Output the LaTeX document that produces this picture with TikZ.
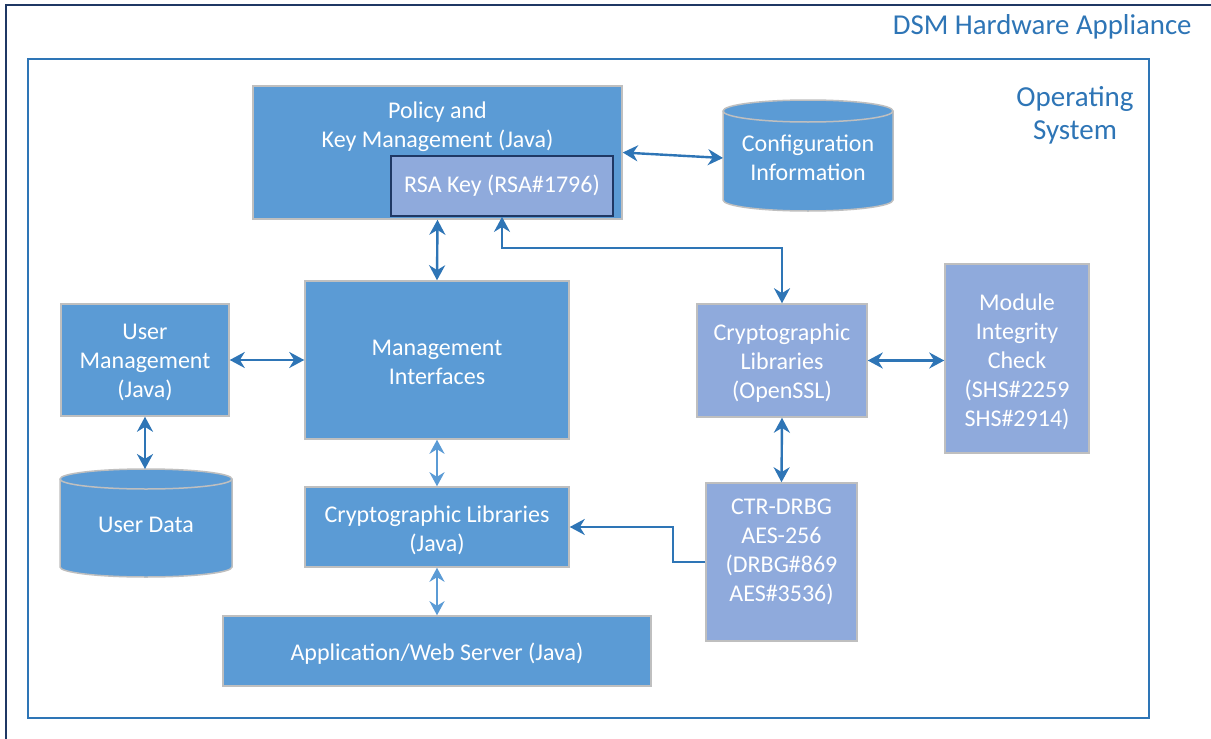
\documentclass[tikz,border=0pt]{standalone}
\usepackage{fontspec}
\setmainfont{Carlito}
\usetikzlibrary{arrows.meta,calc}
\definecolor{mblue}{HTML}{5B9BD5}
\definecolor{lblue}{HTML}{8FAADC}
\definecolor{arrc}{HTML}{2E75B6}
\definecolor{navy}{HTML}{1F3864}
\definecolor{gbord}{HTML}{BFBFBF}
\tikzset{
  blk/.style={fill=mblue, draw=gbord, line width=0.75pt, text=white, align=center,
    inner sep=0pt, font=\fontsize{12}{14.5}\selectfont},
  lblk/.style={blk, fill=lblue},
  txt/.style={text=white, align=center, inner sep=0pt, font=\fontsize{12}{14.5}\selectfont},
  arr/.style={draw=arrc, line width=1.2pt, {Stealth[length=7.5pt,width=8pt]}-{Stealth[length=7.5pt,width=8pt]}},
  sarr/.style={draw=arrc, line width=1.2pt, -{Stealth[length=7.5pt,width=8pt]}},
  larr/.style={draw=mblue, line width=1.2pt, {Stealth[length=7pt,width=7.5pt]}-{Stealth[length=7pt,width=7.5pt]}},
  cyl/.style={fill=mblue, draw=gbord, line width=0.75pt},
}
\begin{document}
\begin{tikzpicture}[x=0.5pt,y=-0.5pt]
\clip (0,0) rectangle (1211,739);
\fill[white] (0,0) rectangle (1211,739);
% frames
\draw[navy, line width=1pt] (6,760) -- (6,5) -- (1230,5);
\draw[arrc, line width=1pt] (28,59) rectangle (1149,718);
\node[anchor=east, text=arrc, inner sep=0pt, font=\fontsize{14.4}{16.5}\selectfont] (title) at (1192,27) {DSM Hardware Appliance};
\node[align=center, text=arrc, inner sep=0pt, font=\fontsize{14.5}{16.5}\selectfont] (os) at (1075,115) {Operating\\System};

% policy box
\node[blk, minimum width=184.5pt, minimum height=66.5pt] (policy) at (437.5,152.5) {};
\node[txt] (policyt) at (437.5,127) {Policy and\\Key Management (Java)};
\node[lblk, draw=navy, line width=0.9pt, minimum width=111pt, minimum height=30pt] (rsa) at (502,186) {RSA Key (RSA\#1796)};

% configuration cylinder
\path[cyl] (723,200) arc[start angle=180,end angle=360,x radius=42.5pt,y radius=5.5pt]
  -- (893,111) arc[start angle=0,end angle=180,x radius=42.5pt,y radius=5.5pt] -- cycle;
\draw[gbord, line width=0.75pt] (723,111) arc[start angle=180,end angle=360,x radius=42.5pt,y radius=5.5pt];
\node[txt] (config) at (808,158) [minimum width=85pt] {Configuration\\Information};

% management interfaces
\node[blk, minimum width=132pt, minimum height=79pt] (mgmt) at (437,360) {};
\node[txt] (mgmtt) at (437,362.5) {Management\\Interfaces};
\node[blk, minimum width=84pt, minimum height=56pt] (usermgmt) at (145,360) {};
\node[txt] (usermgmtt) at (145,362.5) {User\\Management\\(Java)};

% user data cylinder
\path[cyl] (60,567) arc[start angle=180,end angle=360,x radius=43pt,y radius=5pt]
  -- (232,479) arc[start angle=0,end angle=180,x radius=43pt,y radius=5pt] -- cycle;
\draw[gbord, line width=0.75pt] (60,479) arc[start angle=180,end angle=360,x radius=43pt,y radius=5pt];
\node[txt] (userdata) at (146,525) {User Data};
\coordinate (udtop) at (145,469);

% openssl & module integrity
\node[lblk, minimum width=85pt, minimum height=56.5pt] (openssl) at (782,360.5) {};
\node[txt] (openssltxt) at (782,363) {Cryptographic\\Libraries\\(OpenSSL)};
\node[lblk, minimum width=72pt, minimum height=94.5pt] (mic) at (1017,358.5) {};
\node[txt] (mictxt) at (1017,361.5) {Module\\Integrity\\Check\\(SHS\#2259\\SHS\#2914)};

% crypto java & app server
\node[blk, minimum width=132pt, minimum height=40pt] (cjava) at (437,527) {};
\node[txt] (cjavat) at (437,530) {Cryptographic Libraries\\(Java)};
\node[blk, minimum width=214pt, minimum height=35pt] (app) at (437,651) {};
\node[txt] (appt) at (437,654) {Application/Web Server (Java)};

% drbg
\node[lblk, minimum width=75.5pt, minimum height=79pt] (drbg) at (781.5,562) {};
\node[txt] (drbgt) at (781.5,551.5) {CTR-DRBG\\AES-256\\(DRBG\#869\\AES\#3536)};

% connectors
\draw[arr] (policy.east) -- (config.west -| 723,0);
\draw[arr] (policy.south) -- (mgmt.north);
\draw[arr] (rsa.south) -- (502,248) -| (openssl.north);
\draw[arr] (usermgmt.east) -- (mgmt.west);
\draw[arr] (usermgmt.south) -- (udtop);
\draw[arr] (openssl.east) -- (openssl.east -| mic.west);
\draw[arr] (openssl.south) -- (drbg.north);
\draw[larr] (mgmt.south) -- (cjava.north);
\draw[larr] (cjava.south) -- (app.north);
\draw[sarr] (drbg.west) -- (673,562) |- (cjava.east);
\end{tikzpicture}
\end{document}
